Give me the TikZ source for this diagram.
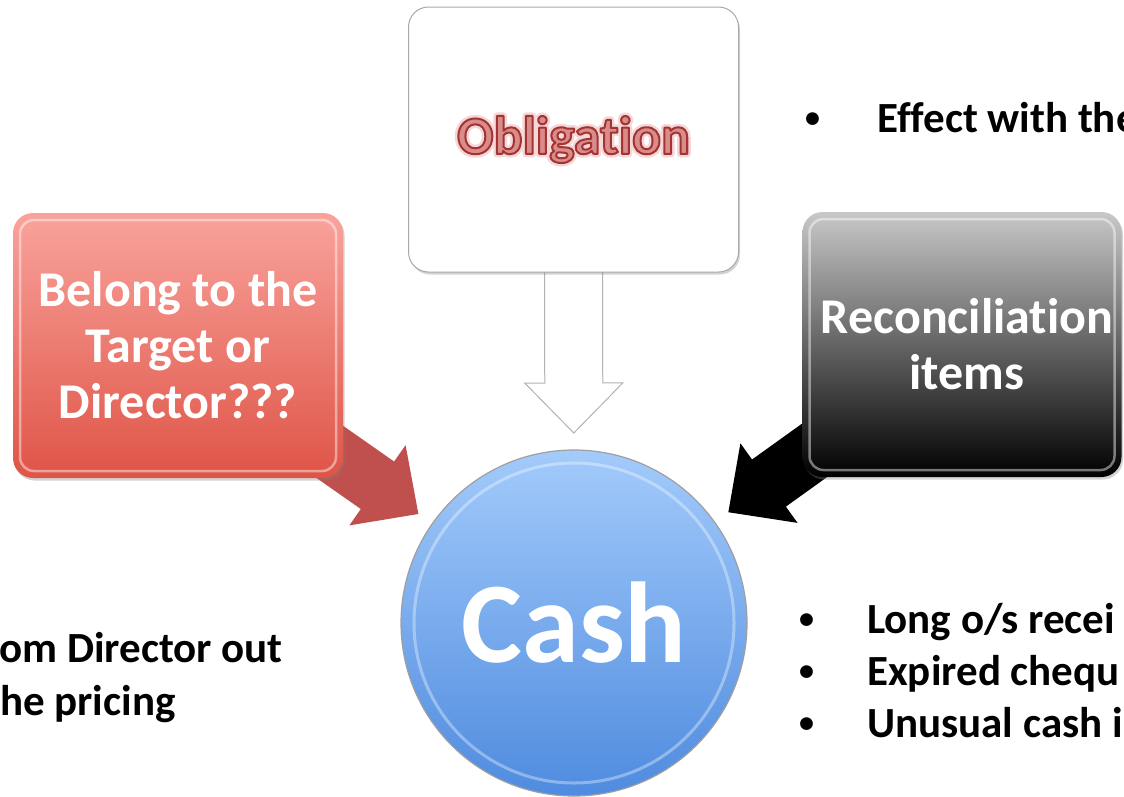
\documentclass[tikz,border=0pt]{standalone}
\usepackage{fontspec}
\setmainfont{Carlito}[Ligatures=NoCommon]
\usetikzlibrary{positioning, calc, shadows, backgrounds}

\definecolor{redtop}{HTML}{F9A39C}
\definecolor{redbot}{HTML}{DF5447}
\definecolor{arrowred}{HTML}{C0504D}
\definecolor{greytop}{HTML}{C8C8C8}
\definecolor{cashtop}{HTML}{A3CBFB}
\definecolor{cashbot}{HTML}{4F8BDF}
\definecolor{oblfill}{HTML}{DA8C8A}
\definecolor{oblglow}{HTML}{F6D6D6}
\definecolor{boxline}{HTML}{A8A8A8}

% block arrow from one node towards another, stopping 190pt short of its centre
\newcommand{\blockarrow}[3]{%
  \path ($(#3)!190pt!(#2)$) coordinate (ba-tip) ($(ba-tip)!50pt!(#2)$) coordinate (ba-base);
  \path[#1] ($(#2)!29pt!90:(ba-tip)$) -- ($(ba-base)!29pt!-90:(#2)$) -- ($(ba-base)!49pt!-90:(#2)$)
    -- (ba-tip) -- ($(ba-base)!49pt!90:(#2)$) -- ($(ba-base)!29pt!90:(#2)$) -- ($(#2)!29pt!-90:(ba-tip)$) -- cycle;}

% text filled with the current colour and stroked: width, stroke rgb, text
\newcommand{\stroked}[3]{\special{pdf:literal direct 2 Tr 1 j #1 w #2 RG}#3\special{pdf:literal direct 0 Tr}}

\newcommand{\bitem}[2]{\makebox[#1][l]{\raisebox{4.5pt}{\fontsize{30}{30}\selectfont\textbullet}}#2}

\begin{document}
\begin{tikzpicture}[x=1pt, y=-1pt,
        panel/.style={rectangle, rounded corners=20pt, minimum width=330pt, minimum height=265pt,
            inner sep=2pt, align=center, text=white, font=\fontsize{50}{56}\selectfont\bfseries,
            drop shadow={opacity=0.35, shadow xshift=1.5pt, shadow yshift=-2.5pt}},
        gloss/.style={path picture={\draw[white, opacity=0.45, line width=2.5pt, rounded corners=14pt]
            ([shift={(7pt,-7pt)}]path picture bounding box.north west) rectangle
            ([shift={(-7pt,7pt)}]path picture bounding box.south east);}},
        hub/.style={circle, minimum size=346pt, inner sep=0pt, top color=cashtop, bottom color=cashbot,
            draw=gray!75, line width=1.2pt, text=white, font=\fontsize{115}{120}\selectfont\bfseries,
            path picture={\draw[white, opacity=0.35, line width=3pt]
            (path picture bounding box.center) circle (160pt);}},
        note/.style={anchor=base west, inner sep=0pt, font=\fontsize{43}{52}\selectfont\bfseries}
    ]
    \useasboundingbox (0,0) rectangle (1124,796);
    % Centre
    \node[hub] (cash) at (574,623) {Cash};
    % Panels
    \node[panel, gloss, fill=white, draw=boxline, line width=1pt, text=oblfill,
          font=\fontsize{54}{60}\selectfont\bfseries] (obl) at (573.5,139.5)
        {\rlap{\color{oblglow}\stroked{7}{0.965 0.839 0.839}{Obligation}}%
         \stroked{2}{0.635 0.204 0.204}{Obligation}};
    \node[panel, gloss, top color=redtop, bottom color=redbot] (target) at (178,345.5)
        {Belong to the\\Target or\\Director???};
    \node[panel, gloss, minimum width=319pt, top color=greytop, bottom color=black] (recon) at (962,344.5)
        {\hspace*{10pt}Reconciliation\\\hspace*{10pt}items};
    % Block arrows into the centre
    \begin{scope}[on background layer]
        \blockarrow{fill=arrowred}{target}{cash}
        \blockarrow{fill=black}{recon}{cash}
        \blockarrow{fill=white, draw=gray!60, line width=1pt}{obl}{cash}
    \end{scope}
    % Notes
    \node[note] (effect) at (805,132) {\bitem{72pt}{Effect with the}};
    \foreach \txt [count=\i] in {Long o/s recei, Expired chequ, Unusual cash i}
        \node[note] (item\i) at (799,{633+52*(\i-1)}) {\bitem{68pt}{\txt}};
    \node[note] (left1) at (-1,662) {om Director out};
    \node[note] (left2) at (0,715) {he pricing};
\end{tikzpicture}
\end{document}
